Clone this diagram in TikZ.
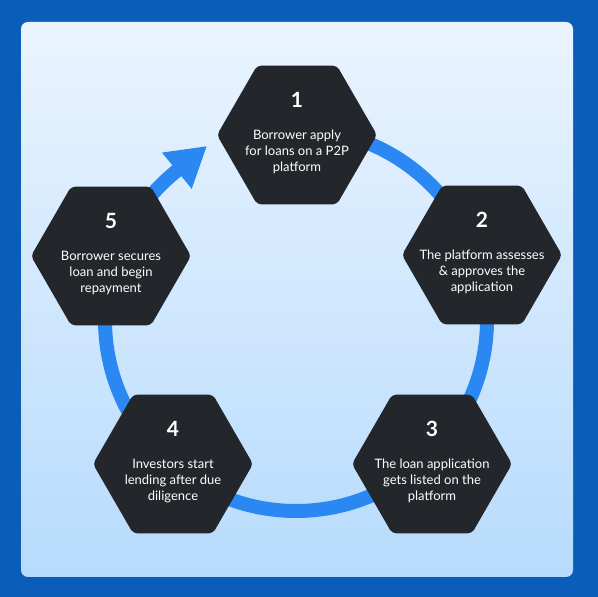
\documentclass[tikz,border=0pt]{standalone}
\usepackage{fontspec}
\setmainfont{Lato}
\usetikzlibrary{shapes.geometric,arrows.meta,calc}

\definecolor{framebl}{HTML}{0A5DB9}
\definecolor{paletop}{HTML}{EAF4FF}
\definecolor{palebot}{HTML}{B7DBFC}
\definecolor{hexdark}{HTML}{23272C}
\definecolor{ringblue}{HTML}{2B88F3}

\begin{document}
\begin{tikzpicture}[%
    x=1pt, y=1pt,                          % one unit = one pixel of the layout
    >={Triangle[length=39pt,width=44pt]},  % big flat arrow head on the ring
    ]
% -------------------------------------------------
% Styles
\tikzset{
  hexa/.style={regular polygon, regular polygon sides=6, minimum size=160pt,
    inner sep=0pt, fill=hexdark, rounded corners=4pt},
  num/.style={text=white, font=\fontsize{21}{24}\selectfont\bfseries},
  txt/.style={text=white, align=center, font=\fontsize{13}{16}\selectfont},
  ring/.style={draw=ringblue, line width=14pt},
}
% -------------------------------------------------
% Frame and panel
\fill[framebl] (0,0) rectangle (598,597);
\useasboundingbox (0,0) rectangle (598,597);
\shade[top color=paletop, bottom color=palebot, rounded corners=7pt]
  (21,20) rectangle (573,575);

% Ring centre and arrow tip
\coordinate (hub) at (296,277);
\coordinate (tip) at (207,451);

% The ring, running clockwise back to step 1
\draw[ring, ->] ($(hub)+(90:191)$) arc[start angle=90, end angle=-231.4, radius=191]
  -- (tip);

% -------------------------------------------------
% The five steps
\node[hexa] (h1) at (297,462) {};
\node[hexa] (h2) at (482,342) {};
\node[hexa] (h3) at (432,133) {};
\node[hexa] (h4) at (173,133) {};
\node[hexa] (h5) at (111,341) {};

\node[num] (n1) at ([yshift=35pt]h1.center) {1};
\node[num] (n2) at ([yshift=35pt]h2.center) {2};
\node[num] (n3) at ([yshift=35pt]h3.center) {3};
\node[num] (n4) at ([yshift=35pt]h4.center) {4};
\node[num] (n5) at ([yshift=35pt]h5.center) {5};

\node[txt] (t1) at ([yshift=-17pt]h1.center) {Borrower apply\\for loans on a P2P\\platform};
\node[txt] (t2) at ([yshift=-17pt]h2.center) {The platform assesses\\\& approves the\\application};
\node[txt] (t3) at ([yshift=-17pt]h3.center) {The loan application\\gets listed on the\\platform};
\node[txt] (t4) at ([yshift=-17pt]h4.center) {Investors start\\lending after due\\diligence};
\node[txt] (t5) at ([yshift=-17pt]h5.center) {Borrower secures\\loan and begin\\repayment};

\end{tikzpicture}
\end{document}
